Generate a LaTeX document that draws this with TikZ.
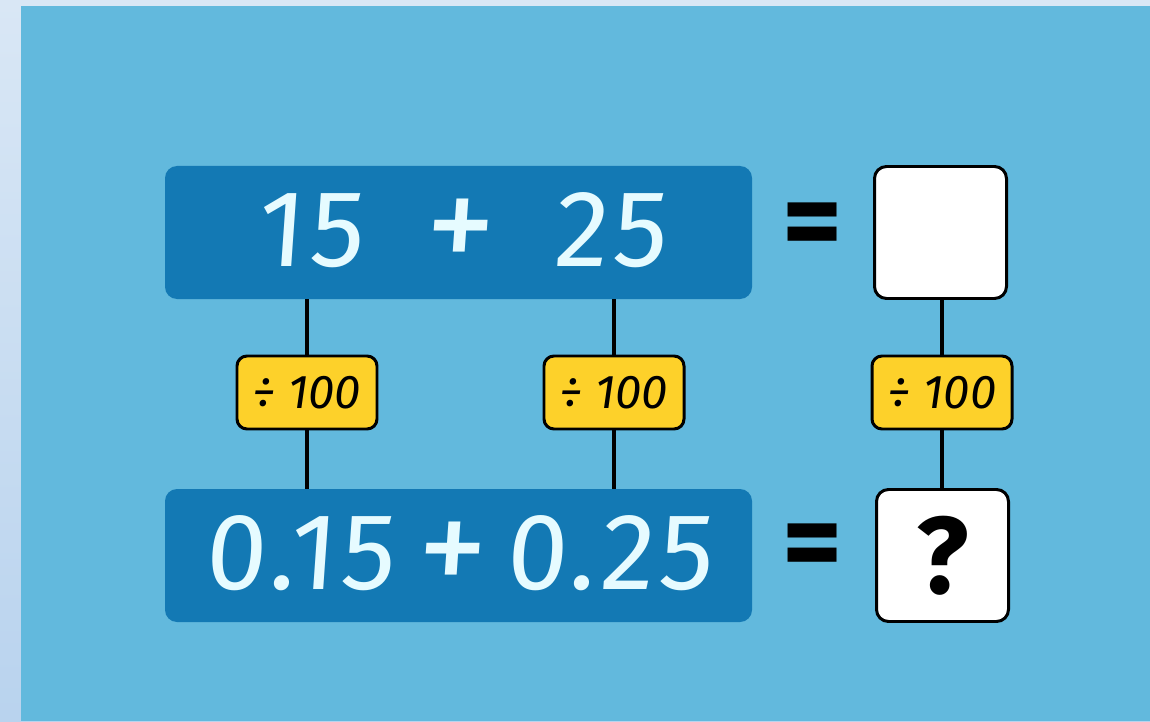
\documentclass[tikz,border=0pt]{standalone}
\usepackage{fontspec}
\setmainfont{Fira Sans}
\newfontfamily\numfont[FakeSlant=0.07, LetterSpace=4]{Fira Sans}
\usetikzlibrary{positioning}
\definecolor{bgblue}{HTML}{62B9DD}
\definecolor{stripblue}{HTML}{D9E7F5}
\definecolor{stripdark}{HTML}{B9D3EE}
\definecolor{boxblue}{HTML}{1379B4}
\definecolor{numwhite}{HTML}{E6FBFF}
\definecolor{divyellow}{HTML}{FDD12A}
\newcommand{\bigplus}{\raisebox{-0.06em}{\scalebox{1.3}{+}}}
\tikzset{
	every node/.style = {font=\normalsize}
}
\tikzset{
	exprbox/.style = {fill=boxblue, rounded corners=0.24cm, minimum width=11.74cm, minimum height=2.66cm,
		text=numwhite, font=\fontsize{62}{62}\numfont, inner sep=0pt},
	divbox/.style = {fill=divyellow, draw=black, line width=1.7pt, rounded corners=0.2cm,
		minimum width=2.8cm, minimum height=1.46cm, font=\fontsize{27}{27}\itshape, inner sep=0pt},
	ansbox/.style = {fill=white, draw=black, line width=1.7pt, rounded corners=0.24cm,
		minimum width=2.64cm, minimum height=2.64cm, inner sep=0pt},
	eqsign/.style = {font=\fontsize{66}{66}\selectfont\bfseries, inner sep=0pt},
	link/.style = {line width=2pt}
}

\begin{document}
\begin{tikzpicture}
        % Background with the light strip on the left and top
        \useasboundingbox (0,0) rectangle (23,14.42);
        \shade[top color=stripblue, bottom color=stripdark] (0,0) rectangle (23,14.42);
        \fill[bgblue] (0.42,0) rectangle (23,14.30);

        % The two sums
        \node[exprbox] (topexpr) at (9.17,9.77) {\hspace{0.12cm}15\hspace{1.2cm}\bigplus\hspace{1.2cm}25};
        \node[exprbox] (botexpr) at (9.17,3.31) {0.15\hspace{0.4cm}\bigplus\hspace{0.4cm}0.25};

        % Equals signs and answer boxes
        \node[ansbox] (ans) at (18.81,9.77) {};
        \node[ansbox, font=\fontsize{62}{62}\selectfont\bfseries] (unk) at (18.85,3.31) {?};
        \node[eqsign] (eqtop) at (16.25,9.78) {=};
        \node[eqsign] (eqbot) at (16.25,3.36) {=};

        % Divide by 100 labels
        \node[divbox] (div1) at (6.14,6.57) {÷ 100};
        \node[divbox] (div2) at (12.28,6.57) {÷ 100};
        \node[divbox] (div3) at (18.84,6.57) {÷ 100};

        % Links between the rows
        \foreach \d in {div1,div2}{
            \draw[link] (\d.north) -- (\d.north |- topexpr.south);
            \draw[link] (\d.south) -- (\d.south |- botexpr.north);
        }
        \draw[link] (div3.north) -- (div3.north |- ans.south);
        \draw[link] (div3.south) -- (div3.south |- unk.north);
    \end{tikzpicture}
\end{document}
